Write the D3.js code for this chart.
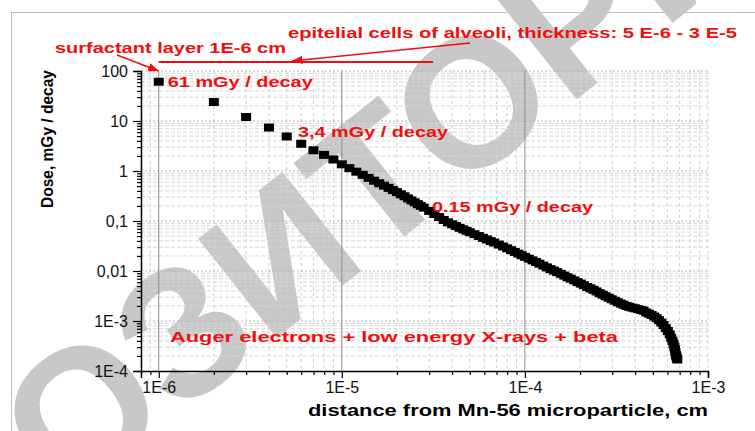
<!DOCTYPE html>
<html lang="en">
<head>
<meta charset="UTF-8">
<title>Dose vs distance</title>
<script src="https://cdn.jsdelivr.net/npm/d3@7"></script>
<style>
    body { margin: 0; background: #fff; }
    text { font-family: "Liberation Sans", Arial, sans-serif; }
</style>
</head>
<body>
<div id="chart"></div>
<script>
    const width = 755;
    const height = 431;

    // distance from the particle, in units of 1E-6 cm
    const distance = [
        1, 2, 3, 4, 5, 6, 7, 8, 9, 10,
        11, 12, 13, 14, 15, 16, 17, 18, 19, 20,
        21, 22, 23, 24, 25, 26, 27, 28,
        30, 32, 34, 36, 38, 40, 42, 44, 46, 48, 50,
        53, 56, 59, 62, 65, 68,
        72, 76, 80, 84, 88, 92, 96, 100,
        105, 110, 115, 120,
        126, 132, 138, 144, 150,
        157, 164, 171, 178,
        186, 194, 202, 210,
        219, 228, 237, 246,
        256, 266, 276, 287, 298, 310, 322, 334, 346, 359, 372, 386, 400,
        415, 430, 445, 460, 476, 492, 508, 524, 540, 556, 572, 588, 604,
        618, 630, 640, 648, 655, 660, 664, 668, 672, 676, 680
    ];
    // dose, mGy per decay
    const dose = [
        61, 24, 12, 7.4, 4.9, 3.5, 2.6, 2.1, 1.7, 1.36,
        1.14, 0.97, 0.84, 0.73, 0.64, 0.57, 0.51, 0.46, 0.415, 0.378,
        0.342, 0.312, 0.283, 0.258, 0.237, 0.217, 0.2, 0.185,
        0.159, 0.138, 0.12, 0.105, 0.094, 0.086, 0.079, 0.073, 0.068, 0.0635, 0.0596,
        0.0545, 0.05, 0.046, 0.0428, 0.0397, 0.0371,
        0.0338, 0.0309, 0.0284, 0.0261, 0.0241, 0.0223, 0.0207, 0.0192,
        0.0177, 0.0163, 0.0151, 0.014,
        0.0128, 0.0118, 0.0109, 0.0102, 0.0095,
        0.0088, 0.0081, 0.0075, 0.007,
        0.0065, 0.006, 0.0056, 0.0052,
        0.0048, 0.0045, 0.0042, 0.0039,
        0.0036, 0.00336, 0.00313, 0.00292, 0.00272, 0.00254, 0.00237, 0.00223, 0.00211, 0.002, 0.00192, 0.00185, 0.00179,
        0.00173, 0.00167, 0.00161, 0.00148, 0.0014, 0.00132, 0.00123, 0.00114, 0.00104, 0.00093, 0.00083, 0.00072, 0.00063,
        0.00054, 0.00046, 0.0004, 0.00035, 0.0003, 0.00027, 0.00024, 0.00021, 0.000195, 0.00018, 0.00017
    ];

    const xTicks = [1e-6, 1e-5, 1e-4, 1e-3];
    const xTickLabels = ["1E-6", "1E-5", "1E-4", "1E-3"];
    const yTicks = [100, 10, 1, 0.1, 0.01, 1e-3, 1e-4];
    const yTickLabels = ["100", "10", "1", "0,1", "0,01", "1E-3", "1E-4"];

    const RED = "#f20d0d";

    const svg = d3.select("#chart")
        .append("svg")
        .attr("width", width)
        .attr("height", height);

    // outer frame of the figure
    svg.append("rect")
        .attr("x", 11.5).attr("y", 12.5)
        .attr("width", 800).attr("height", 500)
        .attr("fill", "none")
        .attr("stroke", "#bdbdbd");

    // watermark, sits behind everything
    const wm = svg.append("g");
    const wmText = wm.append("text")
        .text("РЕПОЗИТОРИЙ")
        .attr("font-size", 184)
        .attr("font-weight", "bold")
        .attr("fill", "#c8c8c8");
    const oBox = wmText.node().getExtentOfChar(7);
    wmText.attr("x", -(oBox.x + oBox.width / 2)).attr("y", 184 * 0.358);
    wm.attr("transform", "translate(470,100) rotate(-38.5)");

    const x = d3.scaleLog().domain([8e-7, 1e-3]).range([141, 708]);
    const y = d3.scaleLog().domain([1e-4, 100]).range([371, 71]);

    const xMinor = [];
    for (let e = -7; e <= -4; e++) {
        for (let k = 2; k <= 9; k++) {
            const v = k * Math.pow(10, e);
            if (v >= 8e-7 && v < 1e-3) xMinor.push(v);
        }
    }
    const yMinor = [];
    for (let e = -4; e <= 1; e++) {
        for (let k = 2; k <= 9; k++) yMinor.push(k * Math.pow(10, e));
    }

    const grid = svg.append("g");
    grid.selectAll("line.vminor").data(xMinor.concat([1e-3])).enter()
        .append("line")
        .attr("x1", d => x(d)).attr("x2", d => x(d))
        .attr("y1", y(100)).attr("y2", y(1e-4))
        .attr("stroke", "#cfcfcf").attr("stroke-dasharray", "3,3");
    grid.selectAll("line.hminor").data(yMinor).enter()
        .append("line")
        .attr("x1", x.range()[0]).attr("x2", x.range()[1])
        .attr("y1", d => y(d)).attr("y2", d => y(d))
        .attr("stroke", "#d6d6d6").attr("stroke-dasharray", "4,2");
    grid.selectAll("line.hmajor").data(yTicks.slice(0, 6)).enter()
        .append("line")
        .attr("x1", x.range()[0]).attr("x2", x.range()[1])
        .attr("y1", d => y(d)).attr("y2", d => y(d))
        .attr("stroke", "#b5b5b5").attr("stroke-dasharray", "2,2");
    grid.selectAll("line.vmajor").data(xTicks.slice(0, 3)).enter()
        .append("line")
        .attr("x1", d => x(d)).attr("x2", d => x(d))
        .attr("y1", y(100)).attr("y2", y(1e-4))
        .attr("stroke", "#8c8c8c");

    // axes
    svg.append("g")
        .attr("transform", "translate(0," + y(1e-4) + ")")
        .call(d3.axisBottom(x).tickValues(xTicks)
            .tickFormat((d, i) => xTickLabels[i]).tickSize(7).tickPadding(4));
    svg.append("g")
        .attr("transform", "translate(0," + y(1e-4) + ")")
        .call(d3.axisBottom(x).tickValues(xMinor).tickFormat("").tickSize(4))
        .select(".domain").remove();

    svg.append("g")
        .attr("transform", "translate(" + x.range()[0] + ",0)")
        .call(d3.axisLeft(y).tickValues(yTicks)
            .tickFormat((d, i) => yTickLabels[i]).tickSize(8).tickPadding(5));
    svg.append("g")
        .attr("transform", "translate(" + x.range()[0] + ",0)")
        .call(d3.axisLeft(y).tickValues(yMinor).tickFormat("").tickSize(4))
        .select(".domain").remove();

    svg.selectAll(".domain").attr("stroke", "#000").attr("stroke-width", 1.5);
    svg.selectAll(".tick line").attr("stroke", "#000").attr("stroke-width", 1.2);
    svg.selectAll(".tick text")
        .attr("font-family", "Liberation Sans, Arial, sans-serif")
        .attr("font-size", 16)
        .attr("fill", "#111");

    // axis titles
    svg.append("text")
        .attr("x", 508).attr("y", 416)
        .attr("text-anchor", "middle")
        .attr("font-size", 16).attr("font-weight", "bold")
        .attr("textLength", 400).attr("lengthAdjust", "spacingAndGlyphs")
        .text("distance from Mn-56 microparticle, cm");
    svg.append("text")
        .attr("transform", "translate(53,139) rotate(-90)")
        .attr("text-anchor", "middle")
        .attr("font-size", 16).attr("font-weight", "bold")
        .attr("textLength", 138).attr("lengthAdjust", "spacingAndGlyphs")
        .text("Dose, mGy / decay");

    // data points
    svg.append("g").selectAll("rect.pt").data(distance).enter()
        .append("rect")
        .attr("class", "pt")
        .attr("x", d => x(d * 1e-6) - 5)
        .attr("y", (d, i) => y(dose[i]) - 4)
        .attr("width", 10).attr("height", 8)
        .attr("fill", "#000");

    // red annotations
    const defs = svg.append("defs");
    defs.append("marker")
        .attr("id", "arrow")
        .attr("viewBox", "0 0 10 10")
        .attr("refX", 10).attr("refY", 5)
        .attr("markerWidth", 7).attr("markerHeight", 7)
        .attr("orient", "auto")
        .append("path").attr("d", "M0,1 L10,5 L0,9 Z").attr("fill", RED);

    function note(txt, x0, base, len) {
        svg.append("text")
            .attr("x", x0).attr("y", base)
            .attr("font-size", 15).attr("font-weight", "bold")
            .attr("fill", RED)
            .attr("textLength", len).attr("lengthAdjust", "spacingAndGlyphs")
            .text(txt);
    }
    note("surfactant layer 1E-6 cm", 55, 53, 231);
    note("epitelial cells of alveoli, thickness: 5 E-6 - 3 E-5", 288, 38, 449);
    note("61 mGy / decay", x(1e-6) + 9, y(61) + 5, 145);
    note("3,4 mGy / decay", 298, 137, 150);
    note("0.15 mGy / decay", 432, 212, 161);
    note("Auger electrons + low energy X-rays + beta", 170, 342, 448);

    svg.append("line")
        .attr("x1", x(1e-6)).attr("x2", 433)
        .attr("y1", 62).attr("y2", 62)
        .attr("stroke", RED).attr("stroke-width", 2);
    svg.append("line")
        .attr("x1", 117).attr("y1", 55)
        .attr("x2", x(1e-6)).attr("y2", 71)
        .attr("stroke", RED).attr("stroke-width", 1.5)
        .attr("marker-end", "url(#arrow)");
    svg.append("line")
        .attr("x1", 470).attr("y1", 43)
        .attr("x2", 292).attr("y2", 61)
        .attr("stroke", RED).attr("stroke-width", 1.5)
        .attr("marker-end", "url(#arrow)");
</script>
</body>
</html>
